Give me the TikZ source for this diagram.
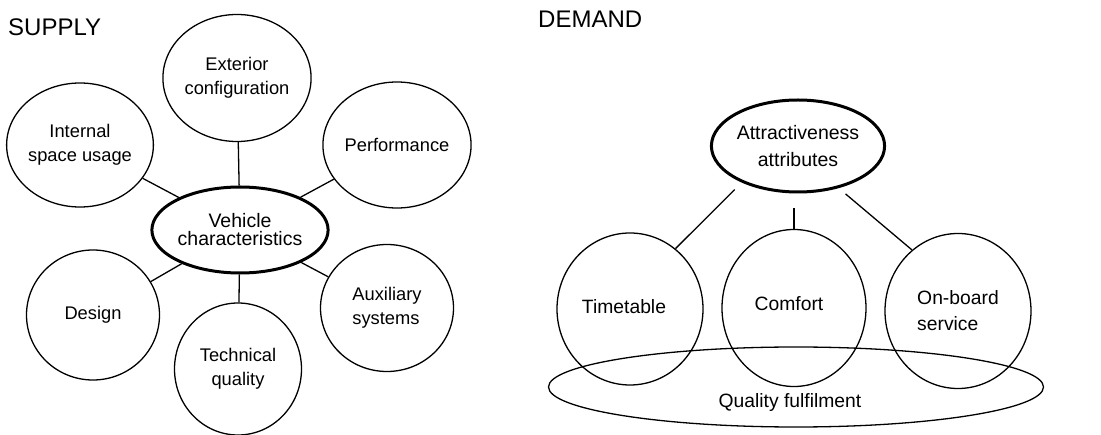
\documentclass[tikz,border=0pt]{standalone}
\usepackage{fontspec}
\setmainfont{Liberation Sans}
\usetikzlibrary{shapes.geometric}
\begin{document}
\begin{tikzpicture}[x=1pt,y=-1pt,
  thin line/.style={line width=1.3pt},
  bubble/.style={draw, ellipse, thin line, inner sep=0pt, align=center,
    font=\fontsize{18.3}{24.5}\selectfont},
  leftbubble/.style={bubble, minimum width=133pt, minimum height=128pt},
  rightbubble/.style={bubble, minimum width=146pt, minimum height=155pt,
    font=\fontsize{19.3}{26}\selectfont},
  hub/.style={draw, ellipse, line width=3pt, inner sep=0pt, align=center},
  heading/.style={anchor=west, inner sep=0pt, font=\fontsize{24}{28}\selectfont},
  link/.style={thin line}]
\useasboundingbox (0,0) rectangle (1101,435);

% ---- supply side ----
\node[heading] (supply) at (8,27) {SUPPLY};
\node[hub, minimum width=140pt, minimum height=86pt,
  font=\fontsize{19.5}{18}\selectfont] (vc) at (240,230) {Vehicle\\characteristics};

\node[leftbubble, minimum height=127pt] (ext) at (237,78) {Exterior\\configuration};
\node[leftbubble, minimum height=124pt] (isu) at (80,145) {Internal\\space usage};
\node[leftbubble, minimum height=126pt] (perf) at (397,145) {Performance};
\node[leftbubble, minimum height=130pt] (des) at (93,315) {Design};
\node[leftbubble, minimum width=127pt, minimum height=132pt] (tq) at (238,369) {Technical\\quality};
\node[leftbubble, minimum height=127pt, align=left] (aux) at (387,308) {Auxiliary\\systems};

\foreach \n in {ext,isu,perf,des,tq,aux}
  \draw[link] (vc) -- (\n);

% ---- demand side ----
\node[heading] (demand) at (538,19) {DEMAND};
\node[hub, minimum width=166pt, minimum height=92pt,
  font=\fontsize{19.5}{27}\selectfont] (att) at (798,146) {Attractiveness\\attributes};

\node[rightbubble, minimum height=152pt] (tt) at (630,309) {};
\node[rightbubble, minimum width=144pt, minimum height=157pt] (cf) at (794,308) {};
\node[rightbubble, align=left] (onb) at (958,311) {On-board\\service};
\node[font=\fontsize{19.3}{26}\selectfont, inner sep=0pt] (ttt) at (624,307) {Timetable};
\node[font=\fontsize{19.3}{26}\selectfont, inner sep=0pt] (cft) at (789,304) {Comfort};

\node[draw, ellipse, thin line, minimum width=495pt, minimum height=80pt, inner sep=0pt]
  (qf) at (796,387) {};
\node[font=\fontsize{19.3}{24}\selectfont, inner sep=0pt] (qft) at (790,403) {Quality fulfilment};

% node anchors are angled in the node's own frame (y up)
\draw[link, shorten <=10pt] (att.213) -- (tt.53);
\draw[link, shorten <=15pt] (cf.north |- att.south) -- (cf.north);
\draw[link, shorten <=9pt] (att.-46) -- (onb.127);
\end{tikzpicture}
\end{document}
